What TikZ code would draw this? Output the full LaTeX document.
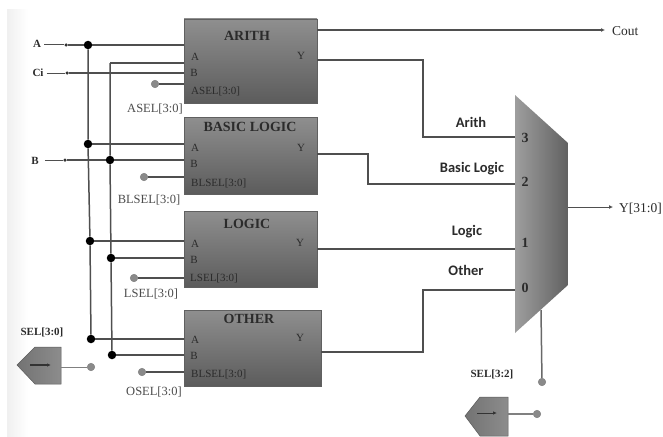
\documentclass[tikz,border=0pt]{standalone}
\usepackage{fontspec}
\setmainfont{Liberation Serif}
\newfontfamily\lblfont{Carlito}
\definecolor{wire}{HTML}{4F4F4F}
\definecolor{ink}{HTML}{2B2B2B}
\definecolor{pin}{HTML}{8A8A8A}
\tikzset{
  blockbox/.style={draw=gray!75!black,line width=.6pt,top color=black!44,bottom color=black!64,inner sep=0pt},
  wireln/.style={draw=wire,line width=1.5pt},
  thinln/.style={draw=wire,line width=1pt},
  bigdot/.style={circle,fill=black,inner sep=0pt,minimum size=8.5pt},
  tinydot/.style={circle,fill=black!80,inner sep=0pt,minimum size=3.5pt},
  pinball/.style={circle,fill=pin,draw=gray,line width=.5pt,inner sep=0pt,minimum size=7.5pt},
  title/.style={font=\fontsize{14}{15}\selectfont\bfseries,text=ink,inner sep=0pt},
  portlbl/.style={font=\fontsize{11}{12}\selectfont,text=ink,inner sep=0pt},
  sellbl/.style={font=\fontsize{12.5}{13}\selectfont,text=ink!85,inner sep=0pt},
  siglbl/.style={font=\fontsize{11}{12}\selectfont\bfseries,text=ink,inner sep=0pt},
  outlbl/.style={font=\fontsize{13.5}{14}\selectfont,text=ink,inner sep=0pt},
  datalbl/.style={font=\lblfont\fontsize{14.5}{15}\selectfont\bfseries,text=ink,inner sep=0pt},
  muxnum/.style={font=\fontsize{14}{15}\selectfont\bfseries,text=ink,inner sep=0pt},
  penta/.style={draw=gray!70!black,line width=.5pt,left color=black!55,right color=black!45},
  tip/.style={-{Latex[length=4pt,width=3.5pt]},draw=wire,line width=1pt}
}
\usetikzlibrary{arrows.meta,calc}
\begin{document}
\begin{tikzpicture}[x=1pt,y=-1pt]
\useasboundingbox (0,0) rectangle (663,436);
\shade[left color=black!6,right color=white] (7,10) rectangle (28,436);
% blocks
\node[blockbox,minimum width=133pt,minimum height=84pt] (arith) at (250.5,61) {};
\node[blockbox,minimum width=133pt,minimum height=77pt] (basic) at (250.5,155.5) {};
\node[blockbox,minimum width=133pt,minimum height=76pt] (logic) at (250.5,249) {};
\node[blockbox,minimum width=137pt,minimum height=76pt] (other) at (252.5,348) {};
% mux
\shade[left color=black!38,right color=black!62,draw=none] (515,95) -- (568,143) -- (568,285) -- (515,333) -- cycle;
\coordinate (muxw3) at (515,137);
\coordinate (muxw2) at (515,184);
\coordinate (muxw1) at (515,249);
\coordinate (muxw0) at (515,290);
\coordinate (muxe) at (568,207);
\coordinate (muxs) at (541,310);
% junctions
\node[bigdot] (ja1) at (88,45) {};
\node[bigdot] (ja2) at (88,144) {};
\node[bigdot] (ja3) at (90,241) {};
\node[bigdot] (ja4) at (91,339) {};
\node[bigdot] (jb2) at (110,160) {};
\node[bigdot] (jb3) at (111,258) {};
\node[bigdot] (jb4) at (112,355) {};
\coordinate (jbtop) at (110,63);
% external labels
\node[siglbl] (lA) at (37,44) {A};
\node[siglbl] (lCi) at (38,73) {Ci};
\node[siglbl] (lB) at (35,161) {B};
\node[tinydot] (sa) at (66,45) {};
\node[tinydot] (sc) at (67,73) {};
\node[tinydot] (sb) at (65,160) {};
% pins
\node[pinball] (pa) at (155,84) {};
\node[pinball] (pb) at (144,177) {};
\node[pinball] (pl) at (134,278) {};
\node[pinball] (po) at (142,372) {};
\node[pinball] (psel) at (91,367) {};
\node[pinball] (pm) at (542,382) {};
\node[pinball] (ps2) at (537,414) {};
% wires
\draw[wireln] (ja1) -- (ja2) (ja2) -- (ja3) (ja3) -- (ja4);
\draw[wireln] (jbtop) -- (jb2) (jb2) -- (jb3) (jb3) -- (jb4);
\draw[wireln] (jbtop) -- (jbtop -| arith.west);
\draw[thinln] (lA.east)+(3,1) -- (sa);
\draw[wireln] (sa) -- (ja1);
\draw[wireln] (ja1) -- (ja1 -| arith.west);
\draw[thinln] (lCi.east)+(3,0) -- (sc);
\draw[wireln] (sc) -- (sc -| arith.west);
\draw[thinln] (lB.east)+(6,-1) -- (sb);
\draw[wireln] (sb) -- (jb2);
\draw[wireln] (jb2) -- (jb2 -| basic.west);
\draw[wireln] (ja2) -- (ja2 -| basic.west);
\draw[wireln] (ja3) -- (ja3 -| logic.west);
\draw[wireln] (jb3) -- (jb3 -| logic.west);
\draw[wireln] (ja4) -- (ja4 -| other.west);
\draw[wireln] (jb4) -- (jb4 -| other.west);
\draw[wireln] (pa) -- (pa -| arith.west);
\draw[wireln] (pb) -- (pb -| basic.west);
\draw[wireln] (pl) -- (pl -| logic.west);
\draw[wireln] (po) -- (po -| other.west);
% outputs
\coordinate (coutend) at (605,30);
\coordinate (yend) at (613,207);
\draw[wireln,-{Latex[length=4pt,width=4pt]}] (coutend -| arith.east) -- (coutend);
\draw[wireln] (arith.east |- 0,60) -- (423,60) -- (423,137) -- (muxw3);
\draw[wireln] (basic.east |- 0,154) -- (368,154) -- (368,184) -- (muxw2);
\draw[wireln] (logic.east |- muxw1) -- (muxw1);
\draw[wireln] (other.east |- 0,352) -- (423,352) -- (423,290) -- (muxw0);
\draw[thinln,-{Latex[length=4pt,width=4pt]}] (muxe) -- (yend);
\draw[wireln,draw=wire!85] (muxs) -- (pm);
% selector pentagons
\path[penta] (61,347) -- (35,347) -- (17,365) -- (35,384) -- (61,384) -- cycle;
\coordinate (sel1a) at (30,365); \coordinate (sel1b) at (51,365); \coordinate (sel1o) at (61,367);
\draw[tip,line width=1.2pt,draw=black!80] (sel1a) -- (sel1b);
\draw[thinln,draw=gray] (sel1o) -- (psel);
\path[penta] (508,397) -- (480,397) -- (465,416) -- (480,436) -- (508,436) -- cycle;
\coordinate (sel2a) at (477,413); \coordinate (sel2b) at (497,413); \coordinate (sel2o) at (508,414);
\draw[tip,draw=black!80] (sel2a) -- (sel2b);
\draw[wireln,draw=gray] (sel2o) -- (ps2);
% block texts
\node[title] at (247,36) {ARITH};
\node[title] at (250,127) {BASIC LOGIC};
\node[title] at (247,224) {LOGIC};
\node[title] at (249,319) {OTHER};
\node[portlbl] at (195,57) {A};
\node[portlbl] at (194,73) {B};
\node[portlbl,anchor=west] at (191,91) {ASEL[3:0]};
\node[portlbl] at (301,56) {Y};
\node[portlbl] at (195,148) {A};
\node[portlbl] at (194,164) {B};
\node[portlbl,anchor=west] at (191,183) {BLSEL[3:0]};
\node[portlbl] at (301,148) {Y};
\node[portlbl] at (195,244) {A};
\node[portlbl] at (194,260) {B};
\node[portlbl,anchor=west] at (190,278) {LSEL[3:0]};
\node[portlbl] at (300,243) {Y};
\node[portlbl] at (195,340) {A};
\node[portlbl] at (194,356) {B};
\node[portlbl,anchor=west] at (191,374) {BLSEL[3:0]};
\node[portlbl] at (300,338) {Y};
% select labels
\node[sellbl] at (155,109) {ASEL[3:0]};
\node[sellbl] at (149,200) {BLSEL[3:0]};
\node[sellbl] at (151,294) {LSEL[3:0]};
\node[sellbl] at (154,392) {OSEL[3:0]};
\node[siglbl] at (42,332) {SEL[3:0]};
\node[siglbl] at (492,374) {SEL[3:2]};
% output labels
\node[outlbl,anchor=west] at (612,31) {Cout};
\node[outlbl,anchor=west] at (619,209) {Y[31:0]};
% mux texts
\node[datalbl] at (471,122) {Arith};
\node[datalbl] at (472,169) {Basic Logic};
\node[datalbl] at (467,232) {Logic};
\node[datalbl] at (466,270) {Other};
\node[muxnum] at (525,138) {3};
\node[muxnum] at (525,182) {2};
\node[muxnum] at (525,243) {1};
\node[muxnum] at (525,288) {0};
\end{tikzpicture}
\end{document}
